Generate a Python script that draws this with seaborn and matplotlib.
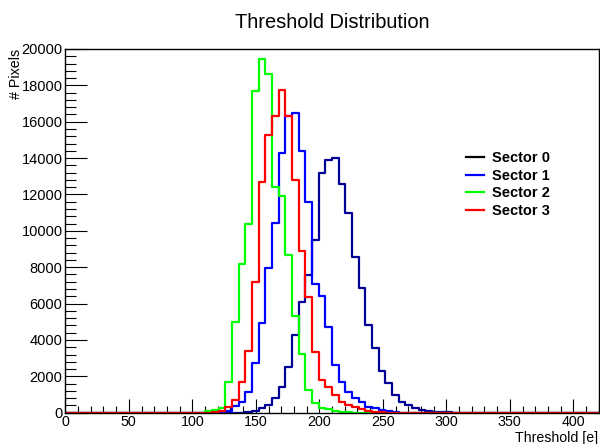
import numpy as np
import pandas as pd
import matplotlib
matplotlib.use("Agg")
import matplotlib.pyplot as plt
from matplotlib.ticker import MultipleLocator
from matplotlib.lines import Line2D
import seaborn as sns

# ---- data (80 bins over 0..420, width 5.25) ----
x_min, x_max, n_bins = 0, 420, 80
sector0 = [0] * 27 + [50, 120, 238, 422, 788, 1393, 2530, 4271, 6104, 7570, 9495,
                      13198, 13894, 13986, 12575, 10998, 8542, 6837, 4821, 3538,
                      2310, 1613, 971, 600, 400, 250, 150, 100, 60, 40, 20] + [0] * 22
sector1 = [0] * 23 + [55, 110, 350, 605, 1155, 2713, 4950, 7937, 10411, 14261, 16314,
                      16497, 14407, 11603, 7057, 6415, 4729, 2621, 1705, 1155, 788,
                      605, 330, 238, 150, 90, 50] + [0] * 30
sector2 = [0] * 21 + [73, 147, 238, 1705, 5004, 8175, 10357, 17690, 19430, 18605,
                      12430, 11930, 8670, 5315, 3226, 1246, 513, 275, 200, 120, 60,
                      30] + [0] * 37
sector3 = [0] * 22 + [40, 110, 330, 697, 1705, 3410, 7167, 12703, 15269, 16332, 17743,
                      16314, 12795, 8890, 6342, 3354, 1796, 1430, 970, 605, 420, 330,
                      200, 120, 60, 30] + [0] * 32
labels = ["Sector 0", "Sector 1", "Sector 2", "Sector 3"]
colors = ["#000099", "#0000ff", "#00ff00", "#ff0000"]
legend_colors = ["#000000", "#0000ff", "#00ff00", "#ff0000"]

bin_width = (x_max - x_min) / n_bins
centers = x_min + bin_width * (np.arange(n_bins) + 0.5)

W, H = 600, 444
fig = plt.figure(figsize=(W / 100, H / 100), dpi=100)
plt.rcParams['font.family'] = ['Liberation Sans', 'DejaVu Sans']
L, R, T, B = 65.3, 598.7, 49.0, 412.7
ax = fig.add_axes([L / W, 1 - B / H, (R - L) / W, (B - T) / H])

for counts, col in zip([sector0, sector1, sector2, sector3], colors):
    df = pd.DataFrame({"x": centers, "w": np.asarray(counts, dtype=float)})
    sns.histplot(data=df, x="x", weights="w", binwidth=bin_width,
                 binrange=(x_min, x_max), element="step", fill=False,
                 color=col, linewidth=1.6, ax=ax)

ax.set_xlim(x_min, x_max)
ax.set_ylim(0, 20000)
ax.set_xlabel("")
ax.set_ylabel("")
for s in ax.spines.values():
    s.set_color("black")
    s.set_linewidth(1.0)

ax.xaxis.set_major_locator(MultipleLocator(50))
ax.xaxis.set_minor_locator(MultipleLocator(10))
ax.yaxis.set_major_locator(MultipleLocator(2000))
ax.yaxis.set_minor_locator(MultipleLocator(400))
ax.tick_params(axis='x', which='major', direction='in', length=10, width=0.8, pad=2,
               labelsize=10.3, colors='black')
ax.tick_params(axis='x', which='minor', direction='in', length=5, width=0.8)
ax.tick_params(axis='y', which='major', direction='in', length=16, width=0.8, pad=2,
               labelsize=10.5, colors='black')
ax.tick_params(axis='y', which='minor', direction='in', length=8, width=0.8)

handles = [Line2D([0], [0], color=c, lw=1.6) for c in legend_colors]
ax.legend(handles, labels, loc='upper left', bbox_to_anchor=(465.7 / W, 1 - 151 / H),
          bbox_transform=fig.transFigure, frameon=False,
          prop={'weight': 'bold', 'size': 10.5}, handlelength=1.28,
          handletextpad=0.55, labelspacing=0.25, borderpad=0, borderaxespad=0)

fig.text(332 / W, 1 - 22 / H, "Threshold Distribution", ha='center', va='center',
         fontsize=14.4)
fig.text(15.5 / W, 1 - 49 / H, "# Pixels", rotation=90, ha='center', va='top',
         fontsize=10.3)
fig.text(598.5 / W, 1 - 441.5 / H, "Threshold [e]", ha='right', va='baseline',
         fontsize=10.2)

fig.savefig("out.png", dpi=100)
